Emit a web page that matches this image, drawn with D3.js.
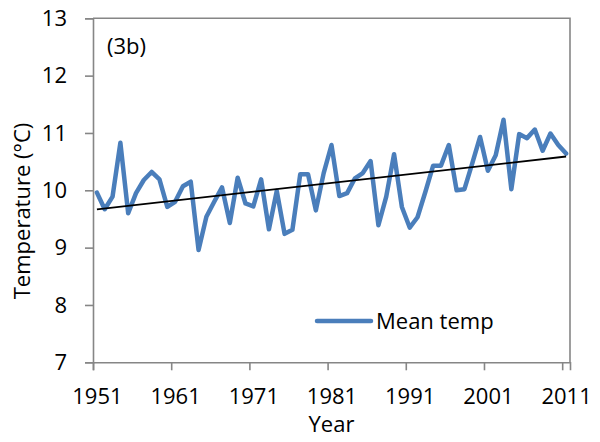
<!DOCTYPE html>
<html>
<head>
<meta charset="utf-8">
<script src="https://cdn.jsdelivr.net/npm/d3@7"></script>
<style>
  body { margin: 0; background: #fff; }
  text { font-family: "Open Sans", "DejaVu Sans", sans-serif; fill: #000; }
</style>
</head>
<body>
<svg id="chart" width="600" height="442"></svg>
<script>
const years = d3.range(1951, 2012);
const meanTemp = [
  9.96, 9.67, 9.89, 10.83, 9.60, 9.95, 10.18, 10.32, 10.19, 9.71,
  9.80, 10.07, 10.15, 8.96, 9.54, 9.80, 10.05, 9.43, 10.22, 9.77,
  9.72, 10.19, 9.32, 9.99, 9.24, 9.31, 10.28, 10.28, 9.65, 10.30,
  10.79, 9.90, 9.95, 10.21, 10.30, 10.51, 9.39, 9.89, 10.63, 9.71,
  9.35, 9.53, 9.97, 10.43, 10.43, 10.79, 10.00, 10.02, 10.47, 10.93,
  10.34, 10.61, 11.23, 10.02, 10.98, 10.91, 11.06, 10.69, 10.99, 10.79,
  10.64
];
const xTickLabels = ["1951", "1961", "1971", "1981", "1991", "2001", "2011"];
const yTickValues = [7, 8, 9, 10, 11, 12, 13];
const seriesName = "Mean temp";
const panelLabel = "(3b)";
const xTitle = "Year";
const yTitle = "Temperature (\u00B0C)";

// linear trend (least squares) computed from the series
const n = years.length;
const mx = d3.mean(years), my = d3.mean(meanTemp);
let sxy = 0, sxx = 0;
for (let i = 0; i < n; i++) { sxy += (years[i]-mx)*(meanTemp[i]-my); sxx += (years[i]-mx)**2; }
const slope = sxy / sxx, intercept = my - slope * mx;
const trend = [years[0], years[n-1]].map(yr => [yr, intercept + slope * yr]);

const svg = d3.select("#chart");
const L = 93, R = 570, T = 18.3, B = 362.3;
const x = d3.scaleLinear().domain([1950.5, 2011.5]).range([L, R]);
const y = d3.scaleLinear().domain([7, 13]).range([B, T]);
const axisColor = "#868686";
const fs = 22;

// plot border (top & right)
svg.append("path")
  .attr("d", `M${L},${T}H${R}V${B}`)
  .attr("fill", "none").attr("stroke", axisColor).attr("stroke-width", 1.6);

// x axis: tick marks at category boundaries
const xTicks = svg.append("g").attr("transform", `translate(0,${B})`)
  .call(d3.axisBottom(x).tickValues(d3.range(1950.5, 2011, 10)).tickSize(8).tickFormat(""));
xTicks.select(".domain").attr("stroke", axisColor).attr("stroke-width", 1.6);
xTicks.selectAll(".tick line").attr("stroke", axisColor).attr("stroke-width", 1.6);

// x labels at category centres
const xLab = svg.append("g").attr("transform", `translate(0,${B})`)
  .call(d3.axisBottom(x).tickValues(xTickLabels.map(Number)).tickSize(0).tickPadding(0).tickFormat(d => String(d)));
xLab.select(".domain").remove();
xLab.selectAll(".tick text").attr("font-size", fs).attr("dy", null).attr("y", 42)
  .style("font-family", '"Open Sans", sans-serif');

// y axis
const yAx = svg.append("g").attr("transform", `translate(${L},0)`)
  .call(d3.axisLeft(y).tickValues(yTickValues).tickSize(8).tickPadding(18).tickFormat(d3.format("d")));
yAx.select(".domain").attr("stroke", axisColor).attr("stroke-width", 1.6);
yAx.selectAll(".tick line").attr("stroke", axisColor).attr("stroke-width", 1.6);
yAx.selectAll(".tick text").attr("font-size", fs).style("font-family", '"Open Sans", sans-serif');

// series line
const line = d3.line().x((d, i) => x(years[i])).y(d => y(d)).curve(d3.curveLinear);
svg.append("path").datum(meanTemp)
  .attr("d", line)
  .attr("fill", "none").attr("stroke", "#4A7EBB").attr("stroke-width", 4.5)
  .attr("stroke-linejoin", "round").attr("stroke-linecap", "round");

// trend line
svg.append("path").datum(trend)
  .attr("d", d3.line().x(d => x(d[0])).y(d => y(d[1])))
  .attr("fill", "none").attr("stroke", "#000").attr("stroke-width", 1.8);

// panel label
svg.append("text").attr("x", 107).attr("y", 54).attr("font-size", fs).text(panelLabel);

// legend
svg.append("line").attr("x1", 317).attr("x2", 371).attr("y1", 321).attr("y2", 321)
  .attr("stroke", "#4A7EBB").attr("stroke-width", 4.5).attr("stroke-linecap", "round");
svg.append("text").attr("x", 376).attr("y", 328.5).attr("font-size", fs).text(seriesName);

// axis titles
svg.append("text").attr("x", (L + R) / 2).attr("y", 432).attr("text-anchor", "middle")
  .attr("font-size", fs).text(xTitle);
svg.append("text").attr("transform", "translate(30,211) rotate(-90)").attr("text-anchor", "middle")
  .attr("font-size", fs).text(yTitle);
</script>
</body>
</html>
